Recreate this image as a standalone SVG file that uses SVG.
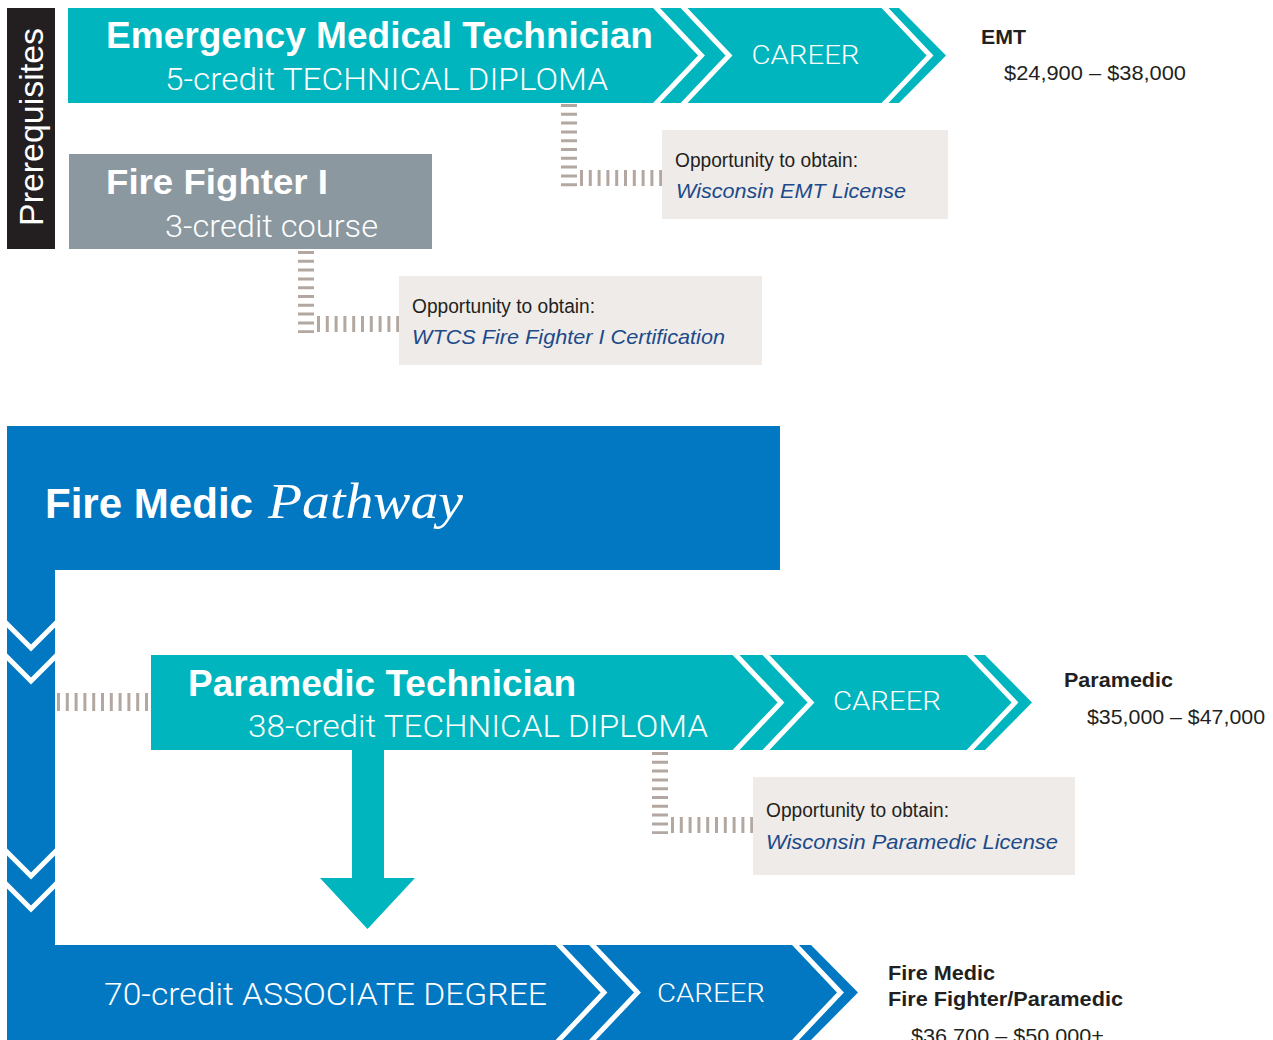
<svg xmlns="http://www.w3.org/2000/svg" width="1273" height="1040" viewBox="0 0 1273 1040">
<style>
.teal{fill:#00b5bd}
.blue{fill:#0277c2}
.chev{fill:none;stroke:#fff;stroke-width:5;stroke-linejoin:miter}
.dash{stroke:#b3a8a1;stroke-dasharray:3 5.8;fill:none}
.bold{font-family:"Liberation Sans",Arial,sans-serif;font-weight:bold}
.light{font-family:Roboto,"Liberation Sans",sans-serif;font-weight:300}
.reg{font-family:"Liberation Sans",Arial,sans-serif}
.w{fill:#fff}
.dk{fill:#231f20}
.note{fill:#efebe8}
.lic{font-family:"Liberation Sans",Arial,sans-serif;font-style:italic;fill:#1c4a8a;font-size:21px}
.opp{font-family:"Liberation Sans",Arial,sans-serif;fill:#231f20;font-size:19.5px}
</style>
<rect width="1273" height="1040" fill="#fff"/>

<g id="prerequisites">
<rect x="7" y="8" width="48" height="241" fill="#231f20"/>
<text class="reg w" x="43" y="127" font-size="33" text-anchor="middle" textLength="198" lengthAdjust="spacingAndGlyphs" transform="rotate(-90 43 127)">Prerequisites</text>
</g>

<g id="emt">
<polygon class="teal" points="68,8 899,8 946,55.5 899,103 68,103"/>
<polyline class="chev" points="651.8,3 701.5,55.5 651.8,108"/>
<polyline class="chev" points="679.3,3 729,55.5 679.3,108"/>
<polyline class="chev" points="880.3,3 930,55.5 880.3,108"/>
<text class="bold w" x="106" y="48" font-size="36" textLength="547" lengthAdjust="spacingAndGlyphs">Emergency Medical Technician</text>
<text class="light w" x="165" y="90" font-size="31" textLength="443" lengthAdjust="spacingAndGlyphs">5-credit TECHNICAL DIPLOMA</text>
<text class="light w" x="805.5" y="64" font-size="26" text-anchor="middle" textLength="108" lengthAdjust="spacingAndGlyphs">CAREER</text>
</g>

<g id="emt-career">
<text class="bold dk" x="981" y="43.5" font-size="21" textLength="45" lengthAdjust="spacingAndGlyphs">EMT</text>
<text class="reg dk" x="1004" y="80" font-size="21" textLength="182" lengthAdjust="spacingAndGlyphs">$24,900 – $38,000</text>
</g>

<g id="emt-license">
<rect class="note" x="662" y="130" width="286" height="89"/>
<text class="opp" x="675" y="166.5" textLength="183" lengthAdjust="spacingAndGlyphs">Opportunity to obtain:</text>
<text class="lic" x="676" y="198" textLength="230" lengthAdjust="spacingAndGlyphs">Wisconsin EMT License</text>
</g>

<g id="firefighter">
<rect x="69" y="154" width="363" height="95" fill="#8b989f"/>
<text class="bold w" x="106" y="194" font-size="35" textLength="222" lengthAdjust="spacingAndGlyphs">Fire Fighter I</text>
<text class="light w" x="165" y="237" font-size="31" textLength="213" lengthAdjust="spacingAndGlyphs">3-credit course</text>
</g>

<g id="ff-cert">
<rect class="note" x="399" y="276" width="363" height="89"/>
<text class="opp" x="412" y="312.5" textLength="183" lengthAdjust="spacingAndGlyphs">Opportunity to obtain:</text>
<text class="lic" x="412" y="344" textLength="313" lengthAdjust="spacingAndGlyphs">WTCS Fire Fighter I Certification</text>
</g>

<g id="pathway">
<rect class="blue" x="7" y="426" width="773" height="144"/>
<rect class="blue" x="7" y="569" width="48" height="377"/>
<polyline class="chev" points="0,617 31,648 62,617"/>
<polyline class="chev" points="0,650 31,681 62,650"/>
<polyline class="chev" points="0,845 31,876 62,845"/>
<polyline class="chev" points="0,878 31,909 62,878"/>
<text class="bold w" x="45" y="518" font-size="43" textLength="208" lengthAdjust="spacingAndGlyphs">Fire Medic</text>
<text class="w" x="268" y="518" font-size="50" font-family="'Liberation Serif',serif" font-style="italic" textLength="195" lengthAdjust="spacingAndGlyphs">Pathway</text>
</g>

<g id="paramedic">
<polygon class="teal" points="151,655 985,655 1032,702.5 985,750 151,750"/>
<polyline class="chev" points="731.3,650 781,702.5 731.3,755"/>
<polyline class="chev" points="761.3,650 811,702.5 761.3,755"/>
<polyline class="chev" points="965.3,650 1015,702.5 965.3,755"/>
<text class="bold w" x="188" y="695.5" font-size="36" textLength="388" lengthAdjust="spacingAndGlyphs">Paramedic Technician</text>
<text class="light w" x="248" y="737" font-size="31" textLength="460" lengthAdjust="spacingAndGlyphs">38-credit TECHNICAL DIPLOMA</text>
<text class="light w" x="887" y="710" font-size="26" text-anchor="middle" textLength="108" lengthAdjust="spacingAndGlyphs">CAREER</text>
</g>

<g id="paramedic-career">
<text class="bold dk" x="1064" y="687" font-size="21" textLength="109" lengthAdjust="spacingAndGlyphs">Paramedic</text>
<text class="reg dk" x="1087" y="723.5" font-size="21" textLength="178" lengthAdjust="spacingAndGlyphs">$35,000 – $47,000</text>
</g>

<g id="paramedic-license">
<rect class="note" x="753" y="777" width="322" height="98"/>
<text class="opp" x="766" y="816.5" textLength="183" lengthAdjust="spacingAndGlyphs">Opportunity to obtain:</text>
<text class="lic" x="766" y="848.5" textLength="292" lengthAdjust="spacingAndGlyphs">Wisconsin Paramedic License</text>
</g>

<g id="associate">
<polygon class="blue" points="7,945 811,945 858,992.5 811,1040 7,1040"/>
<polyline class="chev" points="554.3,940 604,992.5 554.3,1045"/>
<polyline class="chev" points="587.8,940 637.5,992.5 587.8,1045"/>
<polyline class="chev" points="790.8,940 840.5,992.5 790.8,1045"/>
<text class="light w" x="104" y="1005" font-size="31" textLength="443" lengthAdjust="spacingAndGlyphs">70-credit ASSOCIATE DEGREE</text>
<text class="light w" x="711" y="1002" font-size="26" text-anchor="middle" textLength="108" lengthAdjust="spacingAndGlyphs">CAREER</text>
</g>

<g id="firemedic-career">
<text class="bold dk" x="888" y="980" font-size="21" textLength="107" lengthAdjust="spacingAndGlyphs">Fire Medic</text>
<text class="bold dk" x="888" y="1006" font-size="21" textLength="235" lengthAdjust="spacingAndGlyphs">Fire Fighter/Paramedic</text>
<text class="reg dk" x="911" y="1043" font-size="21" textLength="193" lengthAdjust="spacingAndGlyphs">$36,700 – $50,000+</text>
</g>

<g id="connectors">
<line class="dash" x1="569" y1="104" x2="569" y2="187" stroke-width="16"/>
<line class="dash" x1="580" y1="178" x2="662" y2="178" stroke-width="16"/>
<line class="dash" x1="306" y1="251" x2="306" y2="333" stroke-width="16"/>
<line class="dash" x1="317" y1="324" x2="399" y2="324" stroke-width="16"/>
<line class="dash" x1="660" y1="752" x2="660" y2="834" stroke-width="16"/>
<line class="dash" x1="671" y1="825" x2="753" y2="825" stroke-width="16"/>
<line class="dash" x1="57" y1="702" x2="151" y2="702" stroke-width="18"/>
<polygon class="teal" points="352,750 384,750 384,878 415,878 367.5,929 320,878 352,878"/>
</g>
</svg>
